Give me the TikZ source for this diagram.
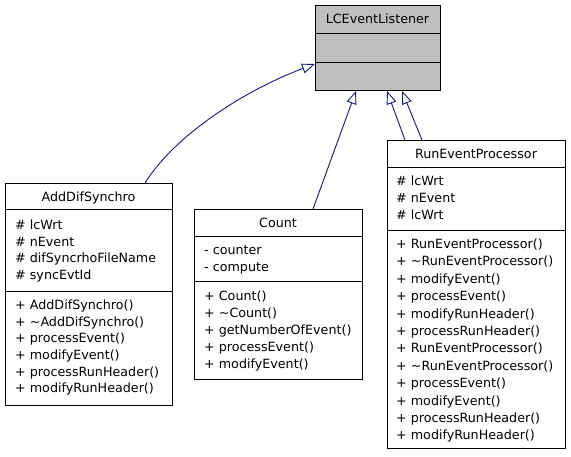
\documentclass[tikz,border=0pt]{standalone}
\usepackage{fontspec}
\setmainfont{DejaVu Sans}
\usetikzlibrary{arrows.meta}
\definecolor{edgeblue}{HTML}{191970}
\definecolor{boxgray}{HTML}{BFBFBF}
\tikzset{
  cls/.style={draw=black, line width=1pt, fill=white, inner sep=0pt, anchor=north west},
  rowtext/.style={anchor=base west, inner sep=0pt, font=\fontsize{12.7}{14}\selectfont},
  titletext/.style={anchor=base, inner sep=0pt, font=\fontsize{12.7}{14}\selectfont},
  divider/.style={draw=black, line width=1pt},
  inh/.style={draw=edgeblue, line width=0.9pt, -{Triangle[open, length=13pt, width=10pt, fill=white]}}
}
\newcommand\tld{\textasciitilde}
\begin{document}
\begin{tikzpicture}[x=1pt,y=-1pt]
\useasboundingbox (0,0) rectangle (571,456);
% LCEventListener
\node[cls, fill=boxgray, minimum width=125pt, minimum height=85pt] (lcel) at (315,5) {};
\draw[divider] (315,33) -- (440,33);
\draw[divider] (315,62) -- (440,62);
\node[titletext] (lcelt) at (377.5,23.5) {LCEventListener};
% AddDifSynchro
\node[cls, minimum width=167pt, minimum height=222pt] (adds) at (5,183) {};
\draw[divider] (5,209.5) -- (172,209.5);
\draw[divider] (5,291.5) -- (172,291.5);
\node[titletext] (addst) at (88.5,201) {AddDifSynchro};
\node[rowtext] (adda1) at (15,229.5) {\# lcWrt};
\node[rowtext] (adda2) at (15,246.2) {\# nEvent};
\node[rowtext] (adda3) at (15,262.8) {\# difSyncrhoFileName};
\node[rowtext] (adda4) at (15,279.5) {\# syncEvtId};
\node[rowtext] (addm1) at (15,309.5) {+ AddDifSynchro()};
\node[rowtext] (addm2) at (15,326.2) {+ \tld AddDifSynchro()};
\node[rowtext] (addm3) at (15,342.8) {+ processEvent()};
\node[rowtext] (addm4) at (15,359.5) {+ modifyEvent()};
\node[rowtext] (addm5) at (15,376.2) {+ processRunHeader()};
\node[rowtext] (addm6) at (15,392.8) {+ modifyRunHeader()};
% Count
\node[cls, minimum width=168pt, minimum height=170pt] (count) at (194,209) {};
\draw[divider] (194,236.5) -- (362,236.5);
\draw[divider] (194,281.5) -- (362,281.5);
\node[titletext] (countt) at (278,227) {Count};
\node[rowtext] (cnta1) at (204,254.5) {- counter};
\node[rowtext] (cnta2) at (204,271.5) {- compute};
\node[rowtext] (cntm1) at (204,300.5) {+ Count()};
\node[rowtext] (cntm2) at (204,317.5) {+ \tld Count()};
\node[rowtext] (cntm3) at (204,334.5) {+ getNumberOfEvent()};
\node[rowtext] (cntm4) at (204,351.5) {+ processEvent()};
\node[rowtext] (cntm5) at (204,368.5) {+ modifyEvent()};
% RunEventProcessor
\node[cls, minimum width=178pt, minimum height=308pt] (rep) at (387,140) {};
\draw[divider] (387,167.5) -- (565,167.5);
\draw[divider] (387,230.5) -- (565,230.5);
\node[titletext] (rept) at (476,158) {RunEventProcessor};
\node[rowtext] (repa1) at (396,185.5) {\# lcWrt};
\node[rowtext] (repa2) at (396,202.5) {\# nEvent};
\node[rowtext] (repa3) at (396,219.5) {\# lcWrt};
\node[rowtext] (repm1) at (396,248.5) {+ RunEventProcessor()};
\node[rowtext] (repm2) at (396,265.9) {+ \tld RunEventProcessor()};
\node[rowtext] (repm3) at (396,283.3) {+ modifyEvent()};
\node[rowtext] (repm4) at (396,300.7) {+ processEvent()};
\node[rowtext] (repm5) at (396,318.1) {+ modifyRunHeader()};
\node[rowtext] (repm6) at (396,335.5) {+ processRunHeader()};
\node[rowtext] (repm7) at (396,352.9) {+ RunEventProcessor()};
\node[rowtext] (repm8) at (396,370.3) {+ \tld RunEventProcessor()};
\node[rowtext] (repm9) at (396,387.7) {+ processEvent()};
\node[rowtext] (repm10) at (396,405.1) {+ modifyEvent()};
\node[rowtext] (repm11) at (396,422.5) {+ processRunHeader()};
\node[rowtext] (repm12) at (396,439.9) {+ modifyRunHeader()};
% inheritance edges
\draw[inh] ([xshift=140pt]adds.north west) .. controls (175,135) and (245,90) .. ([yshift=-59pt]lcel.north west);
\draw[inh] ([xshift=119pt]count.north west) -- ([xshift=41pt]lcel.south west);
\draw[inh] ([xshift=18pt]rep.north west) -- ([xshift=72pt]lcel.south west);
\draw[inh] ([xshift=35pt]rep.north west) -- ([xshift=87pt]lcel.south west);
\end{tikzpicture}
\end{document}
